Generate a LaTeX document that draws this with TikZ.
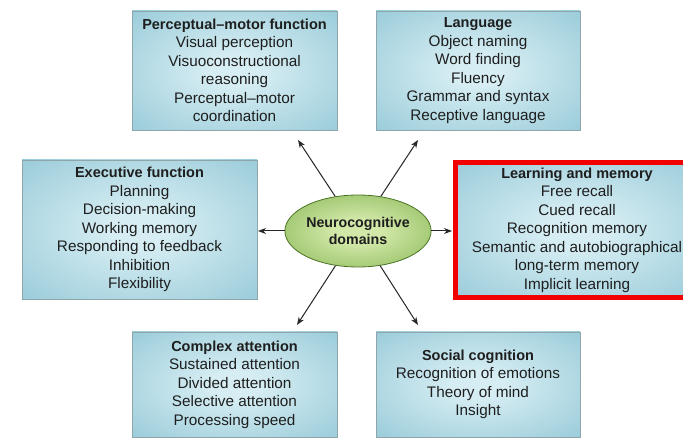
\documentclass[tikz,border=0pt]{standalone}
\usepackage{fontspec}
\setmainfont{Liberation Sans}
\usetikzlibrary{arrows.meta,shapes.geometric}
\definecolor{boxedge}{HTML}{7DBCCD}
\definecolor{boxmid}{HTML}{D6EDF3}
\definecolor{boxline}{HTML}{8FA5AC}
\definecolor{txt}{HTML}{1E1E1E}
\definecolor{elledge}{HTML}{64A030}
\definecolor{ellmid}{HTML}{D2E8A8}
\definecolor{ellline}{HTML}{4A7424}
\definecolor{hl}{HTML}{F20000}
\pgfdeclareradialshading{boxshade}{\pgfpoint{0bp}{0bp}}{color(0bp)=(boxmid); color(6bp)=(boxmid); color(50bp)=(boxedge)}
\pgfdeclareradialshading{ellshade}{\pgfpoint{0bp}{0bp}}{color(0bp)=(ellmid); color(8bp)=(ellmid); color(50bp)=(elledge)}
\newcommand{\ttl}[1]{{\bfseries\fontsize{14.5}{18.5}\selectfont #1}}
\tikzset{
  domainbox/.style={draw=boxline, line width=0.7pt, shading=boxshade, rectangle,
    align=center, text=txt, inner sep=0pt,
    font=\fontsize{15.3}{18.5}\selectfont},
  hubnode/.style={ellipse, draw=ellline, line width=0.8pt, shading=ellshade,
    minimum width=133pt, minimum height=72pt, inner sep=0pt, align=center, text=txt,
    font=\bfseries\fontsize{14.2}{17}\selectfont},
  linkarrow/.style={line width=1pt, draw=black!85, -{Stealth[length=8pt,width=6pt]}}
}
\begin{document}
\begin{tikzpicture}[x=1pt,y=-1pt]
\useasboundingbox[fill=white] (0,0) rectangle (683,438);

\node[domainbox, minimum width=205pt, minimum height=119pt] (pm) at (234.5,70.5)
  {\ttl{Perceptual–motor function}\\Visual perception\\Visuoconstructional\\reasoning\\Perceptual–motor\\coordination};
\node[domainbox, minimum width=204pt, minimum height=119pt] (lang) at (478,70.5)
  {\ttl{Language}\\Object naming\\Word finding\\Fluency\\Grammar and syntax\\Receptive language};
\node[domainbox, minimum width=235pt, minimum height=139pt] (exec) at (139.5,229.5)
  {\ttl{Executive function}\\Planning\\Decision-making\\Working memory\\Responding to feedback\\Inhibition\\Flexibility};
\node[domainbox, draw=hl, line width=5pt, minimum width=243pt, minimum height=135pt] (learn) at (577,230)
  {\ttl{Learning and memory}\\Free recall\\Cued recall\\Recognition memory\\Semantic and autobiographical\\long-term memory\\Implicit learning};
\node[domainbox, minimum width=205pt, minimum height=105pt] (attn) at (234.5,384.5)
  {\ttl{Complex attention}\\Sustained attention\\Divided attention\\Selective attention\\Processing speed};
\node[domainbox, minimum width=204pt, minimum height=105pt] (soc) at (478,384.5)
  {\ttl{Social cognition}\\Recognition of emotions\\Theory of mind\\Insight};

\node[hubnode] (hub) at (358,231) {Neurocognitive\\domains};

\coordinate (tpm) at (298,140);
\coordinate (tlang) at (418,140);
\coordinate (texec) at (258,231);
\coordinate (tlearn) at (452,231);
\coordinate (tattn) at (297,325);
\coordinate (tsoc) at (418,325);

\draw[linkarrow] (hub) -- (tpm);
\draw[linkarrow] (hub) -- (tlang);
\draw[linkarrow] (hub) -- (texec);
\draw[linkarrow] (hub) -- (tlearn);
\draw[linkarrow] (hub) -- (tattn);
\draw[linkarrow] (hub) -- (tsoc);
\end{tikzpicture}
\end{document}
